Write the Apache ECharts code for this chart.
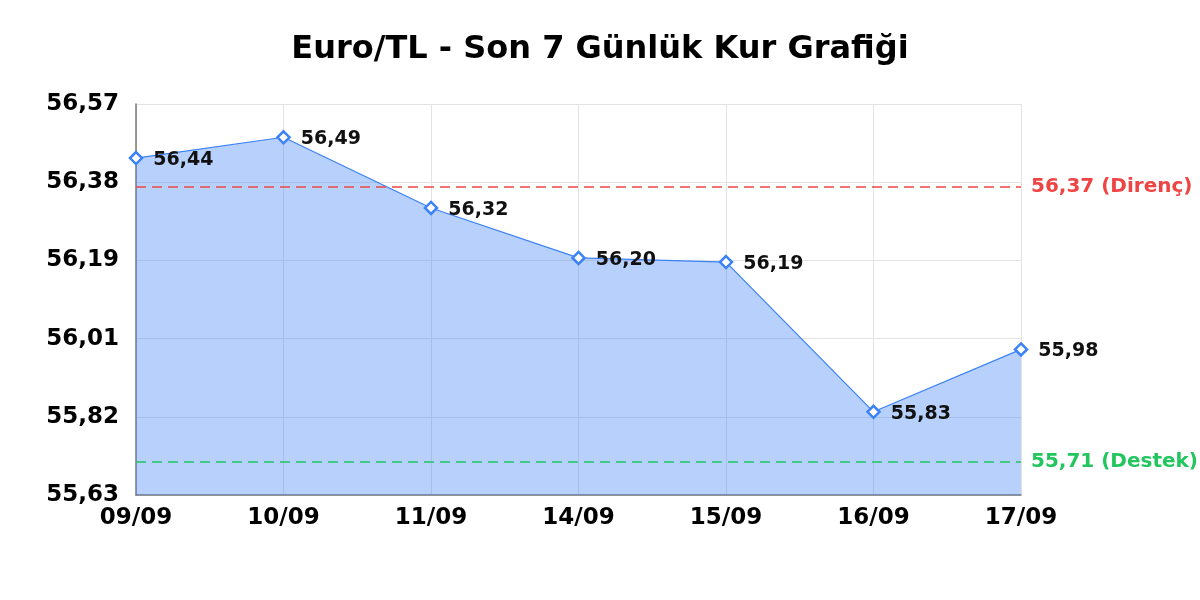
<!DOCTYPE html>
<html>
<head>
<meta charset="utf-8">
<script src="https://cdn.jsdelivr.net/npm/echarts@6/dist/echarts.min.js"></script>
<style>
html,body{margin:0;padding:0;background:#fff;}
#c{width:1200px;height:600px;}
</style>
</head>
<body>
<div id="c"></div>
<script>
const categories = ['09/09','10/09','11/09','14/09','15/09','16/09','17/09'];
const rates = [56.44, 56.49, 56.32, 56.20, 56.19, 55.83, 55.98];
const resistance = 56.37;
const support = 55.71;
const yMin = 55.63;
const yMax = 56.57;
const titleText = 'Euro/TL - Son 7 Günlük Kur Grafiği';

const fmt = v => Number(v).toFixed(2).replace('.', ',');
const FONT = 'DejaVu Sans';

const chart = echarts.init(document.getElementById('c'));
chart.setOption({
  animation: false,
  backgroundColor: '#ffffff',
  title: {
    text: titleText,
    left: 'center',
    top: 29,
    textStyle: { fontFamily: FONT, fontWeight: 'bold', fontSize: 32, color: '#000' }
  },
  grid: { left: 136, right: 179, top: 104, bottom: 105, containLabel: false },
  xAxis: {
    type: 'category',
    data: categories,
    boundaryGap: false,
    axisLine: { show: true, lineStyle: { color: '#777', width: 1.5 } },
    axisTick: { show: false },
    axisLabel: { fontFamily: FONT, fontWeight: 'bold', fontSize: 23, color: '#000', margin: 12, interval: 0 },
    splitLine: { show: true, lineStyle: { color: '#e3e3e3', width: 1 } }
  },
  yAxis: {
    type: 'value',
    min: yMin,
    max: yMax,
    interval: (yMax - yMin) / 5,
    axisLine: { show: true, lineStyle: { color: '#777', width: 1.5 } },
    axisTick: { show: false },
    axisLabel: { fontFamily: FONT, fontWeight: 'bold', fontSize: 23, color: '#000', margin: 17, formatter: fmt },
    splitLine: { show: true, lineStyle: { color: '#e3e3e3', width: 1 } }
  },
  series: [{
    type: 'line',
    data: rates,
    symbol: 'diamond',
    symbolSize: 12,
    showAllSymbol: true,
    lineStyle: { color: '#3b82f6', width: 1.2 },
    itemStyle: { color: '#ffffff', borderColor: '#3b82f6', borderWidth: 2.5 },
    areaStyle: { color: '#3b82f6', opacity: 0.37 },
    label: {
      show: true,
      position: 'right',
      distance: 10,
      offset: [0, 2],
      formatter: p => fmt(p.value),
      fontFamily: FONT, fontWeight: 'bold', fontSize: 19, color: '#111'
    },
    markLine: {
      silent: true,
      symbol: ['none', 'none'],
      data: [
        { yAxis: resistance, lineStyle: { color: '#ef4444', type: [10, 6], width: 1.5 },
          label: { show: true, position: 'end', distance: 10, formatter: fmt(resistance) + ' (Direnç)', color: '#ef4444', fontFamily: FONT, fontWeight: 'bold', fontSize: 20 } },
        { yAxis: support, lineStyle: { color: '#22c55e', type: [10, 6], width: 1.5 },
          label: { show: true, position: 'end', distance: 10, formatter: fmt(support) + ' (Destek)', color: '#22c55e', fontFamily: FONT, fontWeight: 'bold', fontSize: 20 } }
      ]
    }
  }]
});
</script>
</body>
</html>
